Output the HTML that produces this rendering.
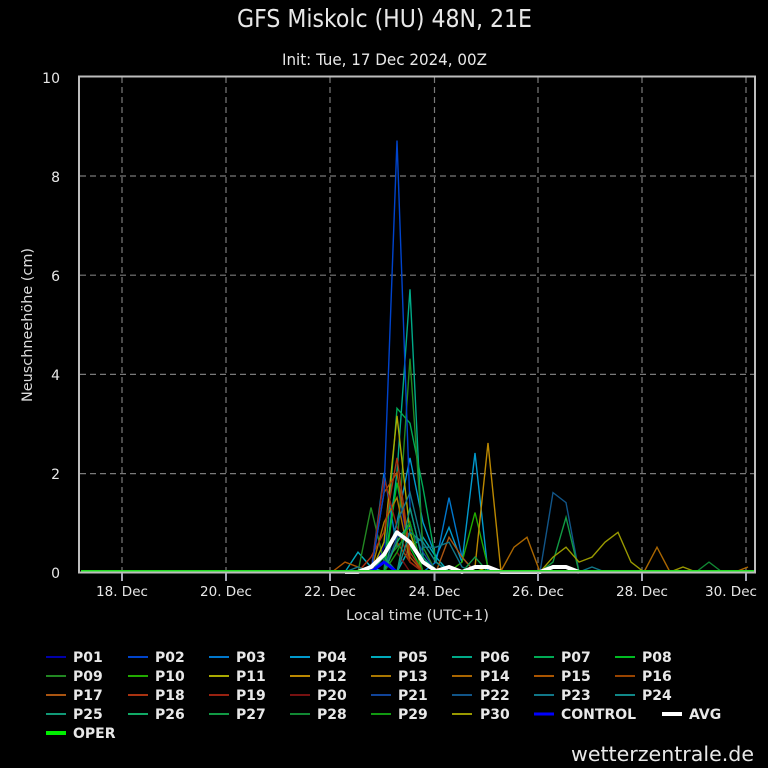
<!DOCTYPE html>
<html><head><meta charset="utf-8"><style>
html,body{margin:0;padding:0;background:#000;}
svg{display:block;}
text{font-family:"DejaVu Sans","Liberation Sans",sans-serif;fill:#e8e8e8;}
.c{font-family:"DejaVu Sans Condensed","DejaVu Sans","Liberation Sans",sans-serif;font-stretch:condensed;}
.lg{font-weight:bold;font-size:14px;fill:#f0f0f0;}
.tk{font-size:14px;fill:#dcdcdc;}
.xt{font-size:13.5px;fill:#dcdcdc;}
</style></head><body>
<svg width="768" height="768" viewBox="0 0 768 768" xmlns="http://www.w3.org/2000/svg">
<rect width="768" height="768" fill="#000"/>
<text class="c" x="384.5" y="27" font-size="25" text-anchor="middle" textLength="295" lengthAdjust="spacingAndGlyphs" fill="#f4f4f4">GFS Miskolc (HU) 48N, 21E</text>
<text class="c" x="384.5" y="65" font-size="16" text-anchor="middle" textLength="205" lengthAdjust="spacingAndGlyphs" fill="#e8e8e8">Init: Tue, 17 Dec 2024, 00Z</text>

<!-- grid -->
<g stroke="#7a7a7a" stroke-width="1.2" stroke-dasharray="6,4" fill="none">
<line x1="80" y1="176" x2="754" y2="176"/>
<line x1="80" y1="275.2" x2="754" y2="275.2"/>
<line x1="80" y1="374.4" x2="754" y2="374.4"/>
<line x1="80" y1="473.6" x2="754" y2="473.6"/>
<line x1="122" y1="77" x2="122" y2="572"/>
<line x1="226" y1="77" x2="226" y2="572"/>
<line x1="330" y1="77" x2="330" y2="572"/>
<line x1="434.5" y1="77" x2="434.5" y2="572"/>
<line x1="538" y1="77" x2="538" y2="572"/>
<line x1="642" y1="77" x2="642" y2="572"/>
<line x1="746" y1="77" x2="746" y2="572"/>
</g>

<!-- series -->
<g fill="none" stroke-width="1.4" stroke-linejoin="miter">
<polyline stroke="#0000aa" points="371,572 384,547.2 397,482.7 410,557.1 423,572"/>
<polyline stroke="#0077cc" points="371,572 384,472.8 397,547.2 410,532.3 423,572 436,562.1 449,497.6 462,557.1 475,572"/>
<polyline stroke="#0099cc" points="384,572 397,522.4 410,457.9 423,522.4 436,557.1 449,527.4 462,562.1 475,453 488,572"/>
<polyline stroke="#00aabb" points="345,572 358,552.2 371,567 384,572 397,572 410,547.2 423,537.3 436,557.1 449,572"/>
<polyline stroke="#00aa88" points="384,572 397,472.8 410,289.3 423,557.1 436,572"/>
<polyline stroke="#00aa55" points="384,572 397,408.3 410,423.2 423,487.7 436,562.1 449,572"/>
<polyline stroke="#00bb22" points="384,572 397,482.7 410,547.2 423,572"/>
<polyline stroke="#228822" points="358,572 371,507.5 384,562.1 397,547.2 410,358.7 423,547.2 436,572"/>
<polyline stroke="#22aa00" points="449,572 462,562.1 475,512.5 488,567 501,572"/>
<polyline stroke="#aaaa00" points="371,572 384,542.2 397,415.8 410,532.3 423,572 475,572 488,567 501,572"/>
<polyline stroke="#bb8800" points="462,572 475,567 488,443 501,572"/>
<polyline stroke="#aa7700" points="371,572 384,522.4 397,497.6 410,562.1 423,572"/>
<polyline stroke="#aa6600" points="501,571 514,547.2 527,537.3 540,572 644,572 657,547.2 670,572 735,572 748,567"/>
<polyline stroke="#aa5500" points="332,572 345,562.1 358,567 371,572 384,492.6 397,472.8 410,557.1 423,572"/>
<polyline stroke="#994400" points="384,572 397,542.2 410,562.1 423,572"/>
<polyline stroke="#aa5511" points="436,572 449,537.3 462,557.1 475,572"/>
<polyline stroke="#aa3311" points="358,572 371,557.1 384,532.3 397,457.9 410,552.2 423,572"/>
<polyline stroke="#992211" points="371,572 384,477.8 397,527.4 410,562.1 423,572"/>
<polyline stroke="#771111" points="384,572 397,552.2 410,572"/>
<polyline stroke="#114499" points="384,572 397,537.3 410,527.4 423,552.2 436,572"/>
<polyline stroke="#0044cc" points="371,572 384,492.6 397,140.5 410,507.5 423,562.1 436,572"/>
<polyline stroke="#115588" points="540,572 553,492.6 566,502.6 579,572"/>
<polyline stroke="#117788" points="345,572 358,567 371,572 384,572 397,522.4 410,492.6 423,547.2 436,547.2 449,542.2 462,567 475,572 579,572 592,567 605,572"/>
<polyline stroke="#118888" points="397,572 410,532.3 423,542.2 436,562.1 449,572"/>
<polyline stroke="#119977" points="371,572 384,557.1 397,572 410,507.5 423,562.1 436,572"/>
<polyline stroke="#11aa66" points="384,572 397,542.2 410,522.4 423,572"/>
<polyline stroke="#119944" points="462,572 475,557.1 488,572 540,572 553,562.1 566,517.4 579,572"/>
<polyline stroke="#118833" points="696,572 709,562.1 722,572"/>
<polyline stroke="#119911" points="384,572 397,552.2 410,522.4 423,572"/>
<polyline stroke="#999900" points="540,572 553,557.1 566,547.2 579,562.1 592,557.1 605,542.2 618,532.3 631,562.1 644,572 670,572 683,567 696,572"/>
</g>
<polyline fill="none" stroke="#0000ff" stroke-width="3" points="358,572 371,572 384,562.1 397,572 410,572"/>
<polyline fill="none" stroke="#ffffff" stroke-width="4" stroke-linejoin="round" points="345,572 358,572 371,567 384,554.6 397,532.3 410,542.2 423,562.1 436,571 449,567 462,572 475,567 488,567 501,572 540,572 553,567 566,567 579,572"/>
<line x1="81" y1="571" x2="754" y2="571" stroke="#22dd22" stroke-width="2"/>

<!-- frame -->
<rect x="79" y="76.5" width="676" height="496" fill="none" stroke="#bdbdbd" stroke-width="2"/>
<g stroke="#a8aab8" stroke-width="2">
<line x1="122" y1="573" x2="122" y2="581"/>
<line x1="226" y1="573" x2="226" y2="581"/>
<line x1="330" y1="573" x2="330" y2="581"/>
<line x1="434.5" y1="573" x2="434.5" y2="581"/>
<line x1="538" y1="573" x2="538" y2="581"/>
<line x1="642" y1="573" x2="642" y2="581"/>
<line x1="746" y1="573" x2="746" y2="581"/>
</g>

<!-- axis labels -->
<g class="tk" text-anchor="end">
<text x="60" y="83">10</text>
<text x="60" y="182">8</text>
<text x="60" y="281">6</text>
<text x="60" y="380">4</text>
<text x="60" y="479">2</text>
<text x="60" y="578">0</text>
</g>
<g class="xt" text-anchor="middle">
<text x="122" y="596">18. Dec</text>
<text x="226" y="596">20. Dec</text>
<text x="330" y="596">22. Dec</text>
<text x="434.5" y="596">24. Dec</text>
<text x="538" y="596">26. Dec</text>
<text x="642" y="596">28. Dec</text>
<text x="731" y="596">30. Dec</text>
</g>
<text class="tk" x="417.5" y="620" text-anchor="middle" textLength="143" lengthAdjust="spacingAndGlyphs">Local time (UTC+1)</text>
<text class="tk" transform="translate(32,325) rotate(-90)" text-anchor="middle" textLength="154" lengthAdjust="spacingAndGlyphs">Neuschneehöhe (cm)</text>

<!-- legend -->
<g stroke-width="2">
<line x1="46" y1="657" x2="66" y2="657" stroke="#0000aa"/>
<line x1="128" y1="657" x2="148" y2="657" stroke="#0044cc"/>
<line x1="209" y1="657" x2="229" y2="657" stroke="#0077cc"/>
<line x1="290" y1="657" x2="310" y2="657" stroke="#0099cc"/>
<line x1="371" y1="657" x2="391" y2="657" stroke="#00aabb"/>
<line x1="452" y1="657" x2="472" y2="657" stroke="#00aa88"/>
<line x1="534" y1="657" x2="554" y2="657" stroke="#00aa55"/>
<line x1="615" y1="657" x2="635" y2="657" stroke="#00bb22"/>

<line x1="46" y1="676" x2="66" y2="676" stroke="#228822"/>
<line x1="128" y1="676" x2="148" y2="676" stroke="#22aa00"/>
<line x1="209" y1="676" x2="229" y2="676" stroke="#aaaa00"/>
<line x1="290" y1="676" x2="310" y2="676" stroke="#bb8800"/>
<line x1="371" y1="676" x2="391" y2="676" stroke="#aa7700"/>
<line x1="452" y1="676" x2="472" y2="676" stroke="#aa6600"/>
<line x1="534" y1="676" x2="554" y2="676" stroke="#aa5500"/>
<line x1="615" y1="676" x2="635" y2="676" stroke="#994400"/>

<line x1="46" y1="695" x2="66" y2="695" stroke="#aa5511"/>
<line x1="128" y1="695" x2="148" y2="695" stroke="#aa3311"/>
<line x1="209" y1="695" x2="229" y2="695" stroke="#992211"/>
<line x1="290" y1="695" x2="310" y2="695" stroke="#771111"/>
<line x1="371" y1="695" x2="391" y2="695" stroke="#114499"/>
<line x1="452" y1="695" x2="472" y2="695" stroke="#115588"/>
<line x1="534" y1="695" x2="554" y2="695" stroke="#117788"/>
<line x1="615" y1="695" x2="635" y2="695" stroke="#118888"/>

<line x1="46" y1="714" x2="66" y2="714" stroke="#119977"/>
<line x1="128" y1="714" x2="148" y2="714" stroke="#11aa66"/>
<line x1="209" y1="714" x2="229" y2="714" stroke="#119944"/>
<line x1="290" y1="714" x2="310" y2="714" stroke="#118833"/>
<line x1="371" y1="714" x2="391" y2="714" stroke="#119911"/>
<line x1="452" y1="714" x2="472" y2="714" stroke="#999900"/>
<line x1="534" y1="714" x2="554" y2="714" stroke="#0000ff" stroke-width="3"/>
<line x1="662" y1="714" x2="682" y2="714" stroke="#ffffff" stroke-width="4"/>
<line x1="46" y1="733" x2="66" y2="733" stroke="#00ee00" stroke-width="4"/>
</g>
<g class="lg">
<text x="73" y="662">P01</text><text x="155" y="662">P02</text><text x="236" y="662">P03</text><text x="317" y="662">P04</text>
<text x="398" y="662">P05</text><text x="480" y="662">P06</text><text x="561" y="662">P07</text><text x="642" y="662">P08</text>
<text x="73" y="681">P09</text><text x="155" y="681">P10</text><text x="236" y="681">P11</text><text x="317" y="681">P12</text>
<text x="398" y="681">P13</text><text x="480" y="681">P14</text><text x="561" y="681">P15</text><text x="642" y="681">P16</text>
<text x="73" y="700">P17</text><text x="155" y="700">P18</text><text x="236" y="700">P19</text><text x="317" y="700">P20</text>
<text x="398" y="700">P21</text><text x="480" y="700">P22</text><text x="561" y="700">P23</text><text x="642" y="700">P24</text>
<text x="73" y="719">P25</text><text x="155" y="719">P26</text><text x="236" y="719">P27</text><text x="317" y="719">P28</text>
<text x="398" y="719">P29</text><text x="480" y="719">P30</text><text x="561" y="719">CONTROL</text><text x="689" y="719">AVG</text>
<text x="73" y="738">OPER</text>
</g>
<text x="571" y="761" font-size="20.5" textLength="183" lengthAdjust="spacingAndGlyphs" fill="#dedede">wetterzentrale.de</text>
</svg>
</body></html>
